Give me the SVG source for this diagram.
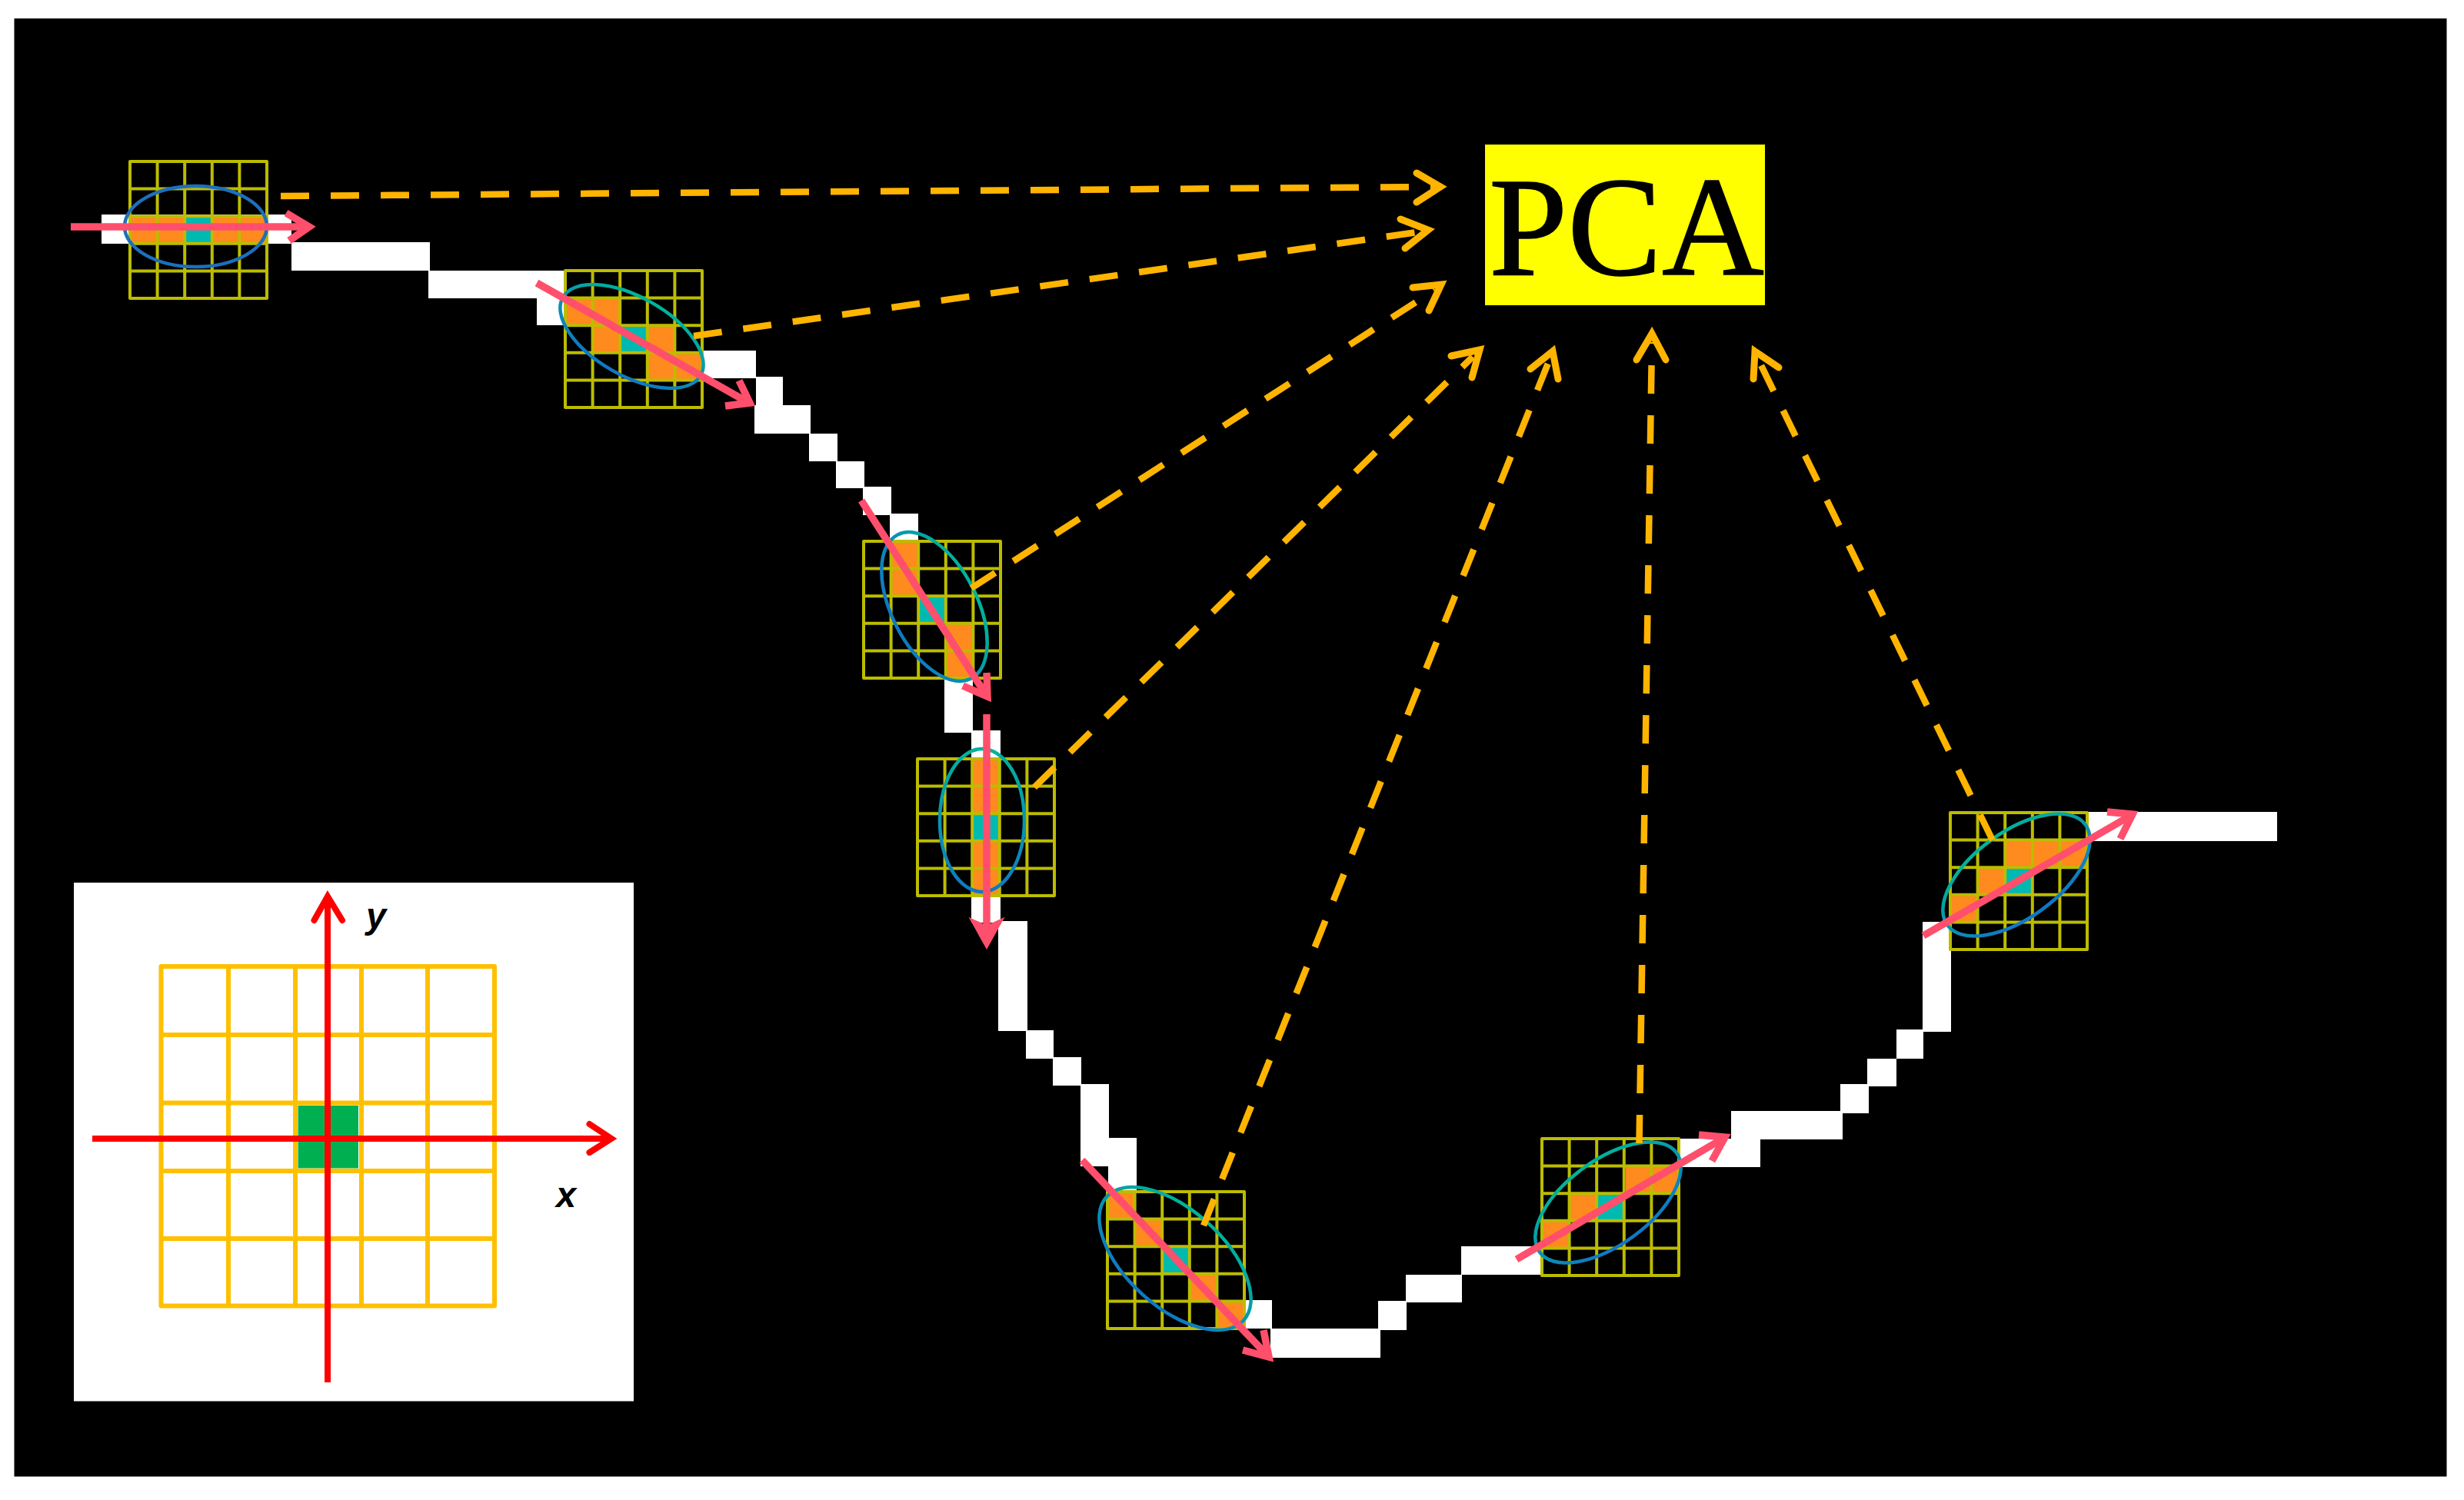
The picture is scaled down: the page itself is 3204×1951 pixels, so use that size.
<svg xmlns="http://www.w3.org/2000/svg" width="3204" height="1951" viewBox="0 0 3204 1951">
<style>
.w{fill:#fff}
.o{fill:#ff8a1e}
.t{fill:#00b9b0}
.gl{stroke:#bcbc00;stroke-width:4;fill:none;stroke-linejoin:round}
.ell{fill:none;stroke:url(#eg);stroke-width:4.5}
.dash{fill:none;stroke:#ffb400;stroke-width:8.5;stroke-dasharray:37 28}
.head{fill:none;stroke:#ffb400;stroke-width:9;stroke-linecap:round;stroke-linejoin:miter}
.pk{fill:none;stroke:#ff4f6c;stroke-width:9.5;stroke-linejoin:miter}
.ig{stroke:#ffc000;stroke-width:6;fill:none;stroke-linejoin:round}
.ax{fill:none;stroke:#ff0000;stroke-width:8;stroke-linecap:round;stroke-linejoin:miter}
.lb{font-family:"Liberation Sans",Arial,sans-serif;font-weight:bold;font-style:italic;font-size:47px;fill:#000}
</style>
<defs>
<linearGradient id="eg" x1="0" y1="0" x2="0" y2="1"><stop offset="0" stop-color="#00b39a"/><stop offset="1" stop-color="#0f78c4"/></linearGradient>
<path id="grid" class="gl" d="M0 0H178V178H0ZM35.6 0V178M71.2 0V178M106.8 0V178M142.4 0V178M0 35.6H178M0 71.2H178M0 106.8H178M0 142.4H178"/>
</defs>
<rect width="3204" height="1951" fill="#fff"/>
<rect x="18.5" y="24" width="3163" height="1896.5" fill="#000"/>

<g id="curve">
<rect class="w" x="132" y="279" width="247" height="38"/>
<rect class="w" x="379" y="315" width="180" height="37"/>
<rect class="w" x="557" y="352" width="178" height="36"/>
<rect class="w" x="698" y="386" width="40" height="37"/>
<rect class="w" x="913" y="456" width="70" height="36"/>
<rect class="w" x="983" y="490" width="35" height="37"/>
<rect class="w" x="981" y="527" width="73" height="37"/>
<rect class="w" x="1052" y="564" width="37" height="36"/>
<rect class="w" x="1087" y="600" width="37" height="35"/>
<rect class="w" x="1122" y="633" width="37" height="37"/>
<rect class="w" x="1157" y="668" width="37" height="37"/>
<rect class="w" x="1228" y="882" width="37" height="71"/>
<rect class="w" x="1263" y="950" width="38" height="37"/>
<rect class="w" x="1263" y="1165" width="38" height="35"/>
<rect class="w" x="1298" y="1198" width="38" height="143"/>
<rect class="w" x="1334" y="1340" width="36" height="37"/>
<rect class="w" x="1369" y="1375" width="37" height="37"/>
<rect class="w" x="1405" y="1410" width="37" height="107"/>
<rect class="w" x="1405" y="1480" width="73" height="37"/>
<rect class="w" x="1441" y="1480" width="37" height="71"/>
<rect class="w" x="1617" y="1691" width="37" height="37"/>
<rect class="w" x="1652" y="1728" width="143" height="38"/>
<rect class="w" x="1792" y="1692" width="37" height="38"/>
<rect class="w" x="1828" y="1658" width="73" height="36"/>
<rect class="w" x="1900" y="1621" width="105" height="37"/>
<rect class="w" x="2183" y="1481" width="106" height="37"/>
<rect class="w" x="2251" y="1445" width="145" height="37"/>
<rect class="w" x="2393" y="1410" width="37" height="38"/>
<rect class="w" x="2428" y="1377" width="38" height="36"/>
<rect class="w" x="2466" y="1339" width="35" height="38"/>
<rect class="w" x="2500" y="1199" width="37" height="143"/>
<rect class="w" x="2714" y="1056" width="247" height="38"/>
</g>

<g id="pca">
<rect x="1931" y="188" width="364" height="209" fill="#ffff00"/>
<text x="2115" y="357" text-anchor="middle" font-family="'Liberation Serif','Times New Roman',serif" font-size="184" fill="#000" stroke="#000" stroke-width="1.5">PCA</text>
</g>

<g id="window-1">
<rect class="o" x="169" y="280" width="178" height="35"/>
<rect class="t" x="242" y="280" width="33" height="35"/>
<use href="#grid" x="169" y="210"/>
<ellipse cx="254.5" cy="294.5" rx="92.5" ry="52.5" fill="none" stroke="#1d6fbd" stroke-width="4.5"/>
</g>
<g id="window-2">
<rect class="o" x="736" y="388" width="70" height="35"/>
<rect class="o" x="771" y="423" width="35" height="35"/>
<rect class="t" x="806" y="423" width="35" height="35"/>
<rect class="o" x="841" y="423" width="35" height="35"/>
<rect class="o" x="841" y="457" width="72" height="36"/>
<use href="#grid" x="735" y="352"/>
<ellipse class="ell" transform="translate(821.5 437.5) rotate(29.5)" rx="103" ry="51"/>
</g>
<g id="window-3">
<rect class="o" x="1159" y="705" width="35" height="70"/>
<rect class="t" x="1194" y="776" width="35" height="35"/>
<rect class="o" x="1229" y="811" width="35" height="70"/>
<use href="#grid" x="1123" y="704"/>
<ellipse class="ell" transform="translate(1215 789) rotate(63)" rx="105" ry="55.5"/>
</g>
<g id="window-4">
<rect class="o" x="1265" y="987" width="36" height="178"/>
<rect class="t" x="1265" y="1059" width="36" height="34"/>
<use href="#grid" x="1193" y="987"/>
<ellipse class="ell" cx="1277" cy="1067" rx="55" ry="93"/>
</g>
<g id="window-5">
<rect class="o" x="1442" y="1552" width="35" height="35"/>
<rect class="o" x="1477" y="1587" width="36" height="36"/>
<rect class="t" x="1513" y="1623" width="35" height="35"/>
<rect class="o" x="1548" y="1658" width="35" height="35"/>
<rect class="o" x="1583" y="1693" width="35" height="34"/>
<use href="#grid" x="1440" y="1550"/>
<ellipse class="ell" transform="translate(1528 1637) rotate(42)" rx="120" ry="63"/>
</g>
<g id="window-6">
<rect class="o" x="2114" y="1518" width="70" height="35"/>
<rect class="o" x="2042" y="1553" width="35" height="35"/>
<rect class="t" x="2077" y="1553" width="36" height="35"/>
<rect class="o" x="2005" y="1588" width="36" height="35"/>
<use href="#grid" x="2005" y="1481"/>
<ellipse class="ell" transform="translate(2091 1564) rotate(-36)" rx="110" ry="55"/>
</g>
<g id="window-7">
<rect class="o" x="2609" y="1094" width="105" height="35"/>
<rect class="o" x="2572" y="1129" width="36" height="35"/>
<rect class="t" x="2607" y="1129" width="35" height="35"/>
<rect class="o" x="2536" y="1164" width="36" height="35"/>
<use href="#grid" x="2536" y="1057"/>
<ellipse class="ell" transform="translate(2622 1138) rotate(-36)" rx="111" ry="56"/>
</g>

<g id="connectors">
<path class="dash" d="M365 255L1865 243"/>
<path class="head" d="M1842 225L1873 243L1842 263"/>
<path class="dash" d="M902 437L1850 301"/>
<path class="head" d="M1821 285L1857 299L1827 323"/>
<path class="dash" d="M1263 765L1866 377"/>
<path class="head" d="M1837 374L1874 370L1858 404"/>
<path class="dash" d="M1345 1024L1915 464"/>
<path class="head" d="M1887 463L1924 455L1914 491"/>
<path class="dash" d="M1565 1594L2014 470"/>
<path class="head" d="M1990 480L2019 457L2026 493"/>
<path class="dash" d="M2131.5 1487L2148 445"/>
<path class="head" d="M2128 468L2148 434L2166 468"/>
<path class="dash" d="M2591 1093L2286 467"/>
<path class="head" d="M2313 478L2282 457L2280 493"/>
</g>

<g id="directions">
<path class="pk" d="M92 295H400"/><path class="pk" d="M372 277L402 295L376 313"/>
<path class="pk" d="M698 368L974 524"/><path class="pk" d="M961 495L975 524L943 528"/>
<path class="pk" d="M1120 651L1283 905"/><path class="pk" d="M1283 875L1284 906L1252 892"/>
<path class="pk" d="M1283 929V1226"/><path d="M1263 1196L1283 1205L1303 1196L1283 1232Z" fill="#ff4f6c" stroke="#ff4f6c" stroke-width="3"/>
<path class="pk" d="M1407 1509L1649 1764"/><path class="pk" d="M1643 1730L1650 1765L1616 1756"/>
<path class="pk" d="M1972 1638L2242 1480"/><path class="pk" d="M2209 1476L2243 1479L2226 1510"/>
<path class="pk" d="M2501 1217L2772 1060"/><path class="pk" d="M2740 1056L2773 1059L2757 1091"/>
</g>

<g id="inset">
<rect x="96" y="1148" width="728" height="674.5" fill="#fff"/>
<rect x="387.5" y="1438" width="78.5" height="81.5" fill="#00b050"/>
<path class="ig" d="M209.5 1257H643V1698.5H209.5ZM297 1257V1698.5M384 1257V1698.5M470 1257V1698.5M556 1257V1698.5M209.5 1346H643M209.5 1434.5H643M209.5 1523H643M209.5 1611H643"/>
<path d="M120 1481H792M426 1798V1170" fill="none" stroke="#ff0000" stroke-width="8"/>
<path class="ax" d="M766.5 1462L795 1481L766.5 1499"/>
<path class="ax" d="M408.5 1197L426 1166L445 1197"/>
<text class="lb" x="476" y="1207">y</text>
<text class="lb" x="723" y="1570">x</text>
</g>
</svg>
